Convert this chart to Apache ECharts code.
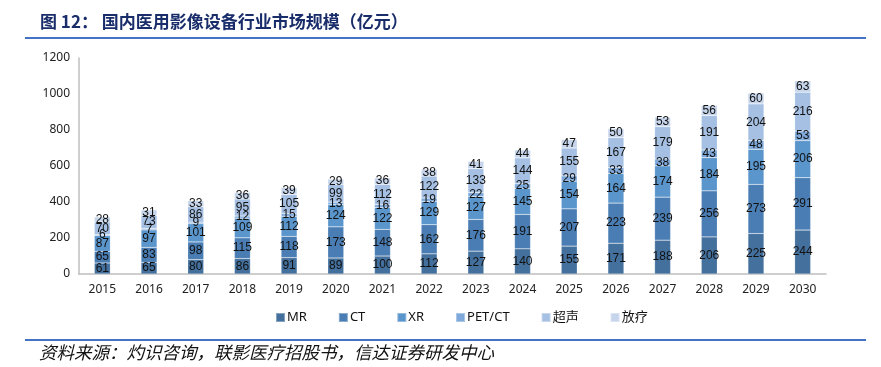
<!DOCTYPE html>
<html>
<head>
<meta charset="utf-8">
<script src="https://cdn.jsdelivr.net/npm/echarts@6/dist/echarts.min.js"></script>
<style>html,body{margin:0;padding:0;background:#fff;}#c{width:881px;height:367px;}</style>
</head>
<body>
<div id="c"></div>
<script>
const years = ['2015','2016','2017','2018','2019','2020','2021','2022','2023','2024','2025','2026','2027','2028','2029','2030'];
const mr    = [61,65,80,86,91,89,100,112,127,140,155,171,188,206,225,244];
const ct    = [65,83,98,115,118,173,148,162,176,191,207,223,239,256,273,291];
const xr    = [87,97,101,109,112,124,122,129,127,145,154,164,174,184,195,206];
const petct = [6,7,9,12,15,13,16,19,22,25,29,33,38,43,48,53];
const us    = [70,73,86,95,105,99,112,122,133,144,155,167,179,191,204,216];
const rt    = [28,31,33,36,39,29,36,38,41,44,47,50,53,56,60,63];
const seriesNames = ['MR','CT','XR','PET/CT','超声','放疗'];
const yTicks = [0,200,400,600,800,1000,1200];

const colors = ['#44709d','#4a7db3','#5a95cc','#7ea9da','#a6c0e3','#c6d5eb'];
const dataArr = [mr, ct, xr, petct, us, rt];
const font = '"Noto Sans", "Noto Sans CJK SC", sans-serif';

const chart = echarts.init(document.getElementById('c'));
chart.setOption({
  animation: false,
  color: colors,
  grid: {left: 79, right: 55, top: 58, bottom: 93, containLabel: false},
  legend: {
    data: seriesNames,
    bottom: 38,
    left: 270,
    itemWidth: 9, itemHeight: 9, itemGap: 31,
    icon: 'rect',
    textStyle: {fontSize: 13, color: '#111', fontFamily: font, padding: [0,0,0,-3]}
  },
  xAxis: {
    type: 'category',
    data: years,
    axisLine: {lineStyle: {color: '#bfbfbf', width: 1.5}},
    axisTick: {show: false},
    axisLabel: {fontSize: 12, color: '#222', fontFamily: font, margin: 10}
  },
  yAxis: {
    type: 'value',
    min: yTicks[0], max: yTicks[yTicks.length-1], interval: 200,
    axisLine: {show: true, lineStyle: {color: '#bfbfbf', width: 1.5}},
    axisTick: {show: false},
    splitLine: {show: false},
    axisLabel: {fontSize: 12, color: '#222', fontFamily: font, margin: 9, formatter: v => String(v)}
  },
  graphic: [
    {type: 'text', left: 40, top: 13, style: {text: '图 12： 国内医用影像设备行业市场规模（亿元）', fill: '#1a2d6b', font: 'bold 17px "Noto Sans CJK SC", sans-serif'}},
    {type: 'rect', shape: {x: 25, y: 37, width: 841, height: 2}, style: {fill: '#4472c4'}},
    {type: 'rect', shape: {x: 25, y: 339, width: 841, height: 2}, style: {fill: '#4472c4'}},
    {type: 'text', left: 39, top: 344, style: {text: '资料来源：灼识咨询，联影医疗招股书，信达证券研发中心', fill: '#111', font: 'italic 17.5px "Noto Sans CJK SC", sans-serif'}}
  ],
  series: seriesNames.map((n, i) => ({
    name: n,
    type: 'bar',
    stack: 'total',
    barWidth: 16,
    data: dataArr[i],
    itemStyle: {color: colors[i], borderColor: 'rgba(255,255,255,0.35)', borderWidth: 0.5},
    label: {show: true, position: 'inside', fontSize: 12, color: '#111', fontFamily: '"Liberation Sans", sans-serif'}
  }))
});
</script>
</body>
</html>
